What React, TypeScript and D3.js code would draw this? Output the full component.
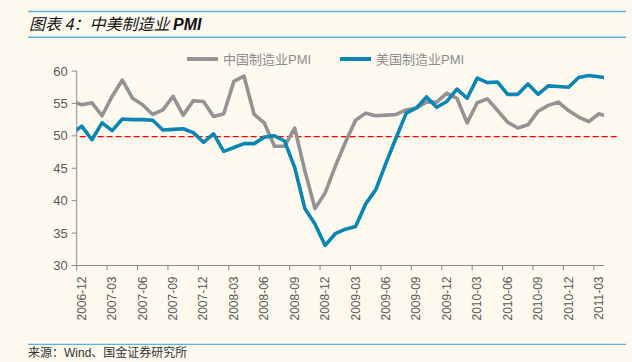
import React from 'react';
import * as d3 from 'd3';

// months, the first and the last one fall outside the axis and are clipped
const months = [
  '2006-11', '2006-12',
  '2007-01', '2007-02', '2007-03', '2007-04', '2007-05', '2007-06', '2007-07', '2007-08', '2007-09', '2007-10', '2007-11', '2007-12',
  '2008-01', '2008-02', '2008-03', '2008-04', '2008-05', '2008-06', '2008-07', '2008-08', '2008-09', '2008-10', '2008-11', '2008-12',
  '2009-01', '2009-02', '2009-03', '2009-04', '2009-05', '2009-06', '2009-07', '2009-08', '2009-09', '2009-10', '2009-11', '2009-12',
  '2010-01', '2010-02', '2010-03', '2010-04', '2010-05', '2010-06', '2010-07', '2010-08', '2010-09', '2010-10', '2010-11', '2010-12',
  '2011-01', '2011-02', '2011-03', '2011-04',
];

const chinaPMI = [
  55.3, 54.8,
  55.1, 53.1, 56.1, 58.6, 55.8, 54.8, 53.3, 54.0, 56.1, 53.2, 55.4, 55.3,
  53.0, 53.4, 58.4, 59.2, 53.3, 52.0, 48.4, 48.4, 51.2, 44.6, 38.8, 41.2,
  45.3, 49.0, 52.4, 53.5, 53.1, 53.2, 53.3, 54.0, 54.3, 55.2, 55.2, 56.6,
  55.8, 52.0, 55.1, 55.7, 53.9, 52.1, 51.2, 51.7, 53.8, 54.7, 55.2, 53.9,
  52.9, 52.2, 53.4, 52.9,
];

const usPMI = [
  50.3, 51.5,
  49.4, 52.0, 50.8, 52.6, 52.5, 52.5, 52.4, 50.9, 51.0, 51.1, 50.5, 49.0,
  50.3, 47.6, 48.2, 48.8, 48.8, 49.8, 50.0, 49.2, 45.1, 38.8, 36.4, 33.1,
  34.9, 35.6, 36.0, 39.5, 41.7, 45.8, 49.7, 53.5, 54.3, 56.0, 54.4, 55.3,
  57.2, 55.8, 58.9, 58.2, 58.3, 56.4, 56.4, 58.0, 56.4, 57.7, 57.6, 57.5,
  59.0, 59.3, 59.1, 58.9,
];

const tickLabels = [
  '2006-12', '2007-03', '2007-06', '2007-09', '2007-12', '2008-03', '2008-06', '2008-09', '2008-12',
  '2009-03', '2009-06', '2009-09', '2009-12', '2010-03', '2010-06', '2010-09', '2010-12', '2011-03',
];

const yTicks = [30, 35, 40, 45, 50, 55, 60];
const refLine = 50;

const seriesNames = ['中国制造业PMI', '美国制造业PMI'];
const colors = ['#939393', '#0a86b4'];

const width = 632;
const height = 362;
const left = 76.7;
const right = 604;
const top = 71;
const bottom = 265.5;

const App = () => {
  // category axis: 52 slots from 2006-12 to 2011-03, point sits in the middle of its slot
  const xScale = d3.scaleLinear().domain([0, 52]).range([left, right]);
  const yScale = d3.scaleLinear().domain([30, 60]).range([bottom, top]);

  const slot = (m: string) => months.indexOf(m) - 1;

  const line = d3.line<number>()
    .x((d, j) => xScale(j - 1 + 0.5))
    .y(d => yScale(d));

  const series = [chinaPMI, usPMI];
  const grey = '#8a8a8a';
  const font = 'Arial, "Liberation Sans", "Noto Sans CJK SC", sans-serif';

  return (
    <svg width={width} height={height} style={{ position: 'absolute', left: 0, top: 0, background: '#fdf9ef' }}>
      <rect x={0} y={0} width={width} height={height} fill="#fdf9ef" />
      <defs>
        <clipPath id="plot-clip">
          <rect x={left} y={0} width={right - left} height={height} />
        </clipPath>
      </defs>

      {/* header */}
      <line x1={28} x2={626} y1={11.5} y2={11.5} stroke="#5ab4dc" strokeWidth={1.5} />
      <text x={29} y={30} fontSize={16} fontStyle="italic" fill="#111"
        fontFamily='"Noto Sans CJK SC", Arial, sans-serif'>
        图表 4：中美制造业 <tspan fontWeight="bold" fontFamily="Arial, 'Liberation Sans', sans-serif">PMI</tspan>
      </text>
      <line x1={28} x2={626} y1={37.3} y2={37.3} stroke="#5ab4dc" strokeWidth={1.5} />

      {/* legend */}
      {[187, 340].map((lx, k) => (
        <g key={k}>
          <line x1={lx} x2={lx + 31} y1={59} y2={59} stroke={colors[k]} strokeWidth={4} />
          <text x={lx + 36} y={63.5} fontSize={13} fill="#8c8c8c" fontFamily={font}>{seriesNames[k]}</text>
        </g>
      ))}

      {/* y axis */}
      <line x1={left} x2={left} y1={top} y2={bottom} stroke={grey} strokeWidth={1} />
      {yTicks.map(t => (
        <g key={t}>
          <line x1={left - 5} x2={left} y1={yScale(t)} y2={yScale(t)} stroke={grey} />
          <text x={left - 9} y={yScale(t) + 4.5} fontSize={13} textAnchor="end" fill="#595959" fontFamily={font}>{t}</text>
        </g>
      ))}

      {/* x axis */}
      <line x1={left} x2={right} y1={bottom} y2={bottom} stroke={grey} strokeWidth={1} />
      {tickLabels.map(lab => {
        const i = slot(lab);
        const lx = xScale(i + 0.5) + 4;
        return (
          <g key={lab}>
            <line x1={xScale(i)} x2={xScale(i)} y1={bottom} y2={bottom + 5} stroke={grey} />
            <text transform={`translate(${lx},${bottom + 11}) rotate(-90)`} fontSize={12} textAnchor="end"
              fill="#595959" fontFamily={font}>{lab}</text>
          </g>
        );
      })}

      {/* 50 line */}
      <line x1={left + 3} x2={617} y1={yScale(refLine) + 0.8} y2={yScale(refLine) + 0.8}
        stroke="#ff0000" strokeWidth={1.3} strokeDasharray="6,3" />

      {/* series */}
      <g clipPath="url(#plot-clip)">
        {series.map((s, k) => (
          <path key={k} d={line(s) || ''} fill="none" stroke={colors[k]} strokeWidth={3.6}
            strokeLinejoin="round" />
        ))}
      </g>

      {/* footer */}
      <line x1={28} x2={626} y1={344.3} y2={344.3} stroke="#5ab4dc" strokeWidth={1.2} />
      <text x={28} y={357} fontSize={12} fill="#333" fontFamily='"Noto Sans CJK SC", sans-serif'>
        来源：<tspan fontFamily="Arial, 'Liberation Sans', sans-serif">Wind</tspan>、国金证券研究所
      </text>
    </svg>
  );
};

export default App;
